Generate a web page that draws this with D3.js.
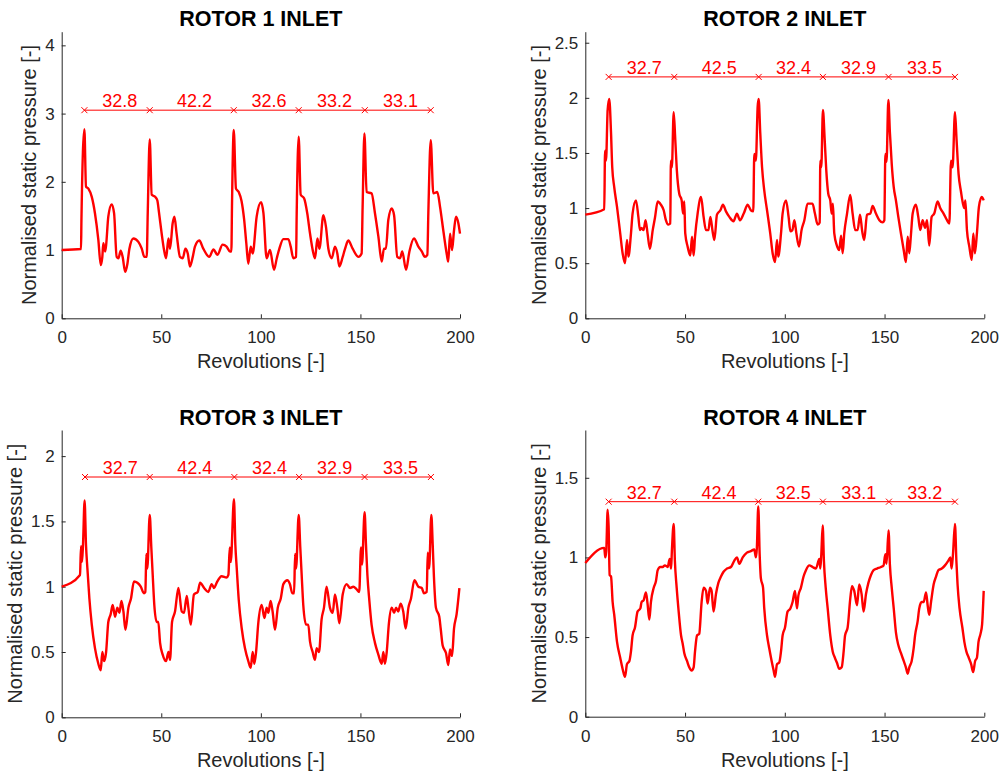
<!DOCTYPE html>
<html>
<head>
<meta charset="utf-8">
<script src="https://cdn.jsdelivr.net/npm/d3@7"></script>
<style>
  body { margin: 0; background: #fff; }
  text { font-family: "Liberation Sans", Arial, Helvetica, sans-serif; }
</style>
</head>
<body>
<div id="main"></div>
<script>
// revolutions vs normalised static pressure
const rotor1 = [[0,1.00],[9.7,1.015],[9.9,1.42],[11.4,2.77],[12.2,1.93],[13.4,1.90],[15.1,1.78],[16.7,1.54],[18.4,1.15],[19.6,0.78],[20.4,0.90],[20.9,1.10],[21.8,0.98],[22.3,1.07],[23.4,1.49],[25.1,1.67],[26.3,1.54],[27.6,0.90],[28.5,0.88],[29.6,0.99],[30.6,0.90],[31.9,0.68],[33.0,0.80],[34.0,1.02],[36.0,1.17],[38.5,1.12],[40.2,1.02],[41.5,0.90],[42.7,0.90],[43.2,1.54],[44.2,2.62],[45.2,1.81],[46.9,1.78],[48.0,1.73],[48.9,1.54],[50.2,1.24],[51.4,1.00],[52.4,0.88],[53.6,1.17],[54.4,1.02],[55.7,1.39],[56.6,1.49],[57.7,1.24],[59.4,0.90],[60.8,0.88],[62.1,1.02],[63.3,0.95],[64.4,0.76],[65.8,0.90],[66.9,1.05],[69.1,1.14],[71.1,1.02],[74.1,0.90],[76.2,1.01],[78.2,0.93],[80.8,1.08],[82.8,1.05],[84.5,0.98],[85.2,0.98],[85.5,1.63],[86.4,2.76],[87.5,1.90],[88.9,1.85],[90.3,1.72],[91.6,1.45],[92.7,1.10],[93.7,0.80],[94.9,1.05],[95.9,0.95],[97.9,1.49],[100.1,1.70],[101.3,1.54],[102.9,0.88],[104.6,1.00],[106.6,0.71],[108,0.88],[109.3,1.02],[111.3,1.16],[113.8,1.16],[115,1.05],[116.3,0.88],[117.7,0.90],[118,1.54],[119,2.66],[120,1.81],[121.7,1.76],[123.3,1.54],[124.7,1.24],[126.4,0.95],[127.2,0.88],[128.4,1.17],[129.4,1.02],[131.4,1.51],[132.7,1.34],[133.9,1.02],[135.6,0.88],[137.2,1.05],[138.4,0.95],[139.4,0.76],[141.1,0.90],[142.3,1.02],[143.9,1.14],[146.1,1.02],[149,0.90],[150.6,0.95],[151.1,1.63],[152,2.71],[153.1,1.85],[155.6,1.83],[157.3,1.54],[159,1.20],[160.7,0.83],[161.8,1.02],[162.8,1.02],[164,1.44],[165.7,1.61],[166.9,1.51],[168.5,0.90],[169.9,0.88],[171,0.98],[172.9,0.71],[174.6,0.98],[176.9,1.17],[179.1,1.05],[180.8,0.98],[182.4,0.90],[183.6,0.93],[184.1,1.54],[185.3,2.61],[186.6,1.83],[188.6,1.85],[190,1.63],[191.6,1.29],[193.3,0.95],[194.1,0.83],[195,1.24],[196,1.00],[197,1.29],[198,1.49],[199.2,1.39],[200,1.24]];

const rotor2 = [[0,0.94],[9.5,0.99],[9.9,1.52],[10.4,1.43],[11.2,1.89],[12.0,1.99],[12.9,1.68],[13.5,1.37],[14.5,1.19],[15.9,1.01],[17.5,0.77],[18.7,0.59],[19.9,0.50],[20.9,0.71],[21.6,0.56],[22.9,0.77],[23.7,0.95],[25.4,1.07],[26.6,0.92],[27.4,0.80],[28.2,0.82],[29.2,0.80],[30.2,0.89],[31.2,0.77],[32.4,0.63],[33.8,0.80],[34.9,0.91],[36.3,1.06],[37.9,1.03],[39.3,0.98],[40.4,0.89],[41.6,0.85],[42.6,0.86],[42.9,1.43],[43.4,1.37],[44.3,1.87],[45.1,1.62],[45.9,1.34],[47.1,1.13],[48.3,1.07],[49,0.95],[49.6,1.06],[50.1,0.77],[51.3,0.65],[52.6,0.57],[53.5,0.74],[54.3,0.57],[55,0.74],[56.3,0.95],[58,1.10],[59.3,0.92],[60.5,0.80],[61.7,0.80],[62.7,0.92],[63.8,0.79],[64.7,0.71],[66,0.94],[67.7,0.98],[69,1.03],[70.5,0.97],[72.2,0.92],[74.3,0.88],[76,0.95],[77.5,0.89],[79.4,0.95],[81.4,1.03],[83,0.98],[84.2,0.97],[84.7,1.49],[85.5,1.43],[86.4,1.92],[86.9,1.99],[87.7,1.68],[88.6,1.37],[89.7,1.16],[91.1,0.98],[92.7,0.77],[93.9,0.59],[95.1,0.51],[96.1,0.71],[96.7,0.56],[98.1,0.77],[98.9,0.95],[100.6,1.07],[101.9,0.92],[102.8,0.79],[103.8,0.80],[104.8,0.89],[105.8,0.77],[107.1,0.65],[108.4,0.80],[109.8,0.89],[111.4,1.04],[113.9,1.04],[115.1,0.95],[116.5,0.85],[117.5,0.87],[117.8,1.43],[118.3,1.37],[119.1,1.89],[120,1.62],[120.8,1.34],[121.8,1.13],[122.8,1.07],[123.5,0.95],[124.1,1.04],[124.8,0.77],[126.1,0.66],[127.3,0.62],[128.2,0.75],[129,0.59],[129.8,0.77],[131.2,0.95],[132.8,1.12],[134,0.95],[135.3,0.80],[136.5,0.80],[137.7,0.94],[138.8,0.79],[139.8,0.71],[141.2,0.94],[142.9,0.95],[144,1.02],[145.7,0.95],[147.4,0.89],[149,0.87],[149.9,0.89],[150.4,1.49],[151,1.42],[151.9,1.98],[152.7,1.68],[153.6,1.40],[154.6,1.19],[155.7,1.07],[156.9,0.92],[158.2,0.77],[159.6,0.62],[160.7,0.51],[161.6,0.74],[162.4,0.59],[163.2,0.75],[164.1,0.95],[165.7,1.03],[166.9,0.92],[167.9,0.80],[169.1,0.89],[170.3,0.82],[171.3,0.89],[172.4,0.66],[173.6,0.92],[174.9,0.95],[176.6,1.06],[177.9,1.00],[179.6,0.95],[181.3,0.89],[182.5,0.86],[183.3,1.43],[184.1,1.37],[185.3,1.87],[186.1,1.62],[187.1,1.31],[188.3,1.15],[189.3,1.04],[190,1.00],[190.5,1.07],[191.3,0.80],[192.5,0.65],[193.7,0.53],[194.5,0.77],[195.3,0.59],[196.3,0.77],[197.3,1.01],[198.7,1.10],[199.7,1.07]];

const rotor3 = [[0,1.00],[9.2,1.09],[9.7,1.31],[10.2,1.19],[10.7,1.32],[11.5,1.66],[12.2,1.32],[12.9,1.14],[13.9,0.91],[15.1,0.71],[16.7,0.53],[18.4,0.41],[19.6,0.36],[20.4,0.50],[21.3,0.43],[22.3,0.50],[23.4,0.73],[24.6,0.79],[25.6,0.86],[26.8,0.77],[27.9,0.84],[29,0.80],[30,0.89],[31,0.81],[32,0.67],[33.5,0.84],[34.8,0.91],[36.3,1.04],[38,1.03],[39.7,1.00],[41.3,0.95],[42,0.96],[42.5,1.25],[43,1.14],[44.2,1.55],[45,1.30],[45.7,1.09],[46.5,0.86],[47.7,0.73],[48.5,0.73],[49.4,0.57],[50.7,0.48],[52.4,0.43],[53.6,0.50],[54.4,0.44],[55.4,0.73],[56.9,0.81],[58.6,0.99],[60.3,0.81],[61.4,0.80],[62.8,0.93],[63.6,0.84],[64.8,0.71],[66.4,0.94],[68.3,0.96],[69.5,1.03],[71.5,0.99],[73.6,0.96],[75.3,1.02],[76.5,0.99],[77.8,1.03],[80.3,1.08],[82.8,1.07],[83.7,1.09],[84.4,1.30],[84.9,1.19],[86.5,1.67],[87.2,1.32],[87.9,1.14],[88.9,0.90],[90.4,0.68],[92,0.53],[93.7,0.43],[94.9,0.38],[95.9,0.50],[96.7,0.41],[97.6,0.50],[98.7,0.72],[100.4,0.86],[101.8,0.76],[102.9,0.84],[103.8,0.80],[104.9,0.89],[105.9,0.81],[107.1,0.67],[108.5,0.84],[110,0.91],[111.3,1.02],[113.3,1.05],[114.6,1.02],[115.8,0.95],[116.7,0.95],[117.2,1.25],[117.7,1.14],[119,1.55],[119.8,1.30],[120.5,1.09],[121.3,0.86],[122.7,0.71],[123.8,0.71],[124.7,0.58],[126,0.50],[127.2,0.44],[128,0.53],[129.2,0.50],[130.5,0.75],[131.7,0.84],[133,1.00],[134.7,0.84],[136.1,0.80],[137.2,0.94],[138.4,0.84],[139.4,0.72],[141.1,0.94],[143.1,1.02],[144.8,0.99],[146.4,1.00],[148.1,0.98],[149.4,0.96],[150.3,1.30],[150.8,1.17],[152.1,1.57],[152.8,1.32],[153.5,1.09],[154.5,0.89],[155.6,0.71],[157.3,0.57],[159,0.48],[160.7,0.41],[161.5,0.50],[162.3,0.41],[163.2,0.50],[164.3,0.72],[165.7,0.84],[166.9,0.80],[167.9,0.84],[169,0.81],[170.2,0.87],[171.5,0.81],[172.7,0.68],[174.1,0.84],[175.4,0.91],[177.1,1.05],[179.1,1.00],[180.8,0.99],[181.9,0.95],[183.3,0.96],[183.8,1.26],[184.5,1.14],[185.6,1.55],[186.3,1.32],[186.9,1.08],[187.9,0.84],[189.6,0.77],[190.3,0.68],[191.3,0.55],[193,0.49],[194.1,0.40],[195,0.52],[196,0.47],[197,0.68],[198.3,0.79],[199.7,0.99]];

const rotor4 = [[0,0.965],[9.5,1.06],[10,1.00],[10.5,1.04],[11.2,1.30],[11.7,1.19],[12.2,0.89],[12.9,0.88],[13.7,0.72],[14.5,0.64],[15.9,0.47],[17.5,0.37],[18.7,0.30],[19.9,0.25],[20.9,0.33],[22.1,0.35],[22.9,0.41],[23.7,0.51],[24.9,0.56],[26.2,0.66],[27.6,0.68],[28.2,0.72],[29.2,0.73],[30.4,0.78],[31.2,0.71],[32.1,0.61],[32.9,0.72],[34.3,0.81],[35.4,0.85],[36.3,0.92],[37.6,0.94],[38.8,0.94],[39.9,0.95],[41.3,0.94],[42.3,0.99],[43,0.93],[43.4,1.04],[44.3,1.21],[44.9,0.98],[45.8,0.81],[46.8,0.66],[48,0.51],[48.8,0.46],[49.6,0.40],[51,0.35],[52.1,0.31],[53.3,0.29],[54.3,0.31],[55,0.41],[56,0.51],[57.1,0.52],[58.3,0.72],[59.3,0.81],[60.5,0.79],[61.3,0.71],[62.5,0.81],[63.3,0.79],[64.3,0.66],[65.5,0.77],[66.7,0.84],[68,0.88],[69.3,0.91],[71,0.93],[73,0.94],[74.7,0.98],[76,1.00],[77.2,0.96],[78.9,1.00],[81,1.03],[83,1.04],[84.7,1.05],[85.5,1.00],[86,1.06],[86.7,1.32],[87.4,1.02],[88,0.87],[89.1,0.81],[89.7,0.68],[91.1,0.51],[92.2,0.43],[93.4,0.35],[94.4,0.29],[95.1,0.25],[96.1,0.33],[97.2,0.34],[98.1,0.41],[98.9,0.51],[100.1,0.56],[101.4,0.66],[102.8,0.68],[103.9,0.72],[105.1,0.79],[106.1,0.68],[106.8,0.76],[108.1,0.81],[109.4,0.88],[110.6,0.92],[112.3,0.95],[113.9,0.94],[115.6,0.93],[117.3,0.99],[117.8,0.93],[118.3,1.02],[119,1.20],[119.6,0.98],[120.5,0.81],[121.5,0.68],[122.8,0.51],[124,0.41],[125.1,0.37],[126.1,0.34],[127.3,0.30],[128.5,0.31],[129.5,0.41],[130.2,0.51],[131.5,0.56],[132.8,0.74],[133.7,0.82],[134.8,0.79],[136.2,0.70],[137.3,0.83],[138.5,0.77],[139.5,0.66],[140.7,0.77],[141.9,0.84],[143.2,0.89],[144.5,0.92],[146.2,0.93],[148.2,0.94],[149.5,0.95],[150.4,1.02],[151,0.96],[152,1.17],[152.7,0.95],[153.6,0.81],[154.6,0.68],[155.7,0.53],[156.9,0.45],[158.2,0.40],[159.6,0.35],[160.7,0.31],[161.6,0.27],[162.4,0.31],[163.6,0.35],[164.6,0.43],[165.3,0.51],[166.6,0.60],[167.4,0.68],[168.6,0.72],[169.6,0.72],[170.8,0.78],[171.6,0.70],[172.4,0.64],[173.3,0.72],[174.6,0.83],[175.8,0.88],[177,0.92],[178.7,0.93],[180.3,0.95],[182,0.98],[183,1.00],[183.6,0.93],[184.3,1.02],[185.3,1.21],[186,0.98],[186.6,0.83],[187.6,0.68],[189,0.56],[190,0.47],[191,0.41],[192.2,0.37],[193.4,0.33],[194.4,0.28],[195.4,0.35],[196.3,0.37],[197.1,0.47],[198.1,0.52],[198.9,0.58],[199.7,0.79]];

// period markers (revolutions) and period lengths written between them
const marks1 = [11.4, 44.2, 86.4, 119.0, 152.2, 185.3];
const marks2 = [11.7, 44.6, 86.9, 119.1, 152.0, 185.3];
const marks3 = [11.7, 44.2, 86.7, 119.2, 152.1, 185.4];
const marks4 = [11.7, 44.6, 86.7, 119.1, 152.2, 185.3];
const periods1 = ['32.8', '42.2', '32.6', '33.2', '33.1'];
const periods2 = ['32.7', '42.5', '32.4', '32.9', '33.5'];
const periods3 = ['32.7', '42.4', '32.4', '32.9', '33.5'];
const periods4 = ['32.7', '42.4', '32.5', '33.1', '33.2'];
const markLevels = [3.05, 2.19, 1.84, 1.35];

const titles = ['ROTOR 1 INLET', 'ROTOR 2 INLET', 'ROTOR 3 INLET', 'ROTOR 4 INLET'];
const yMaxes = [4.2, 2.6, 2.2, 1.8];
const yTicks = [[0, 1, 2, 3, 4], [0, 0.5, 1, 1.5, 2, 2.5], [0, 0.5, 1, 1.5, 2], [0, 0.5, 1, 1.5]];
const xTicks = [0, 50, 100, 150, 200];

const width = 1001, height = 776;
const axisColor = '#262626';
const lineRed = '#ff0000';

// plot boxes: [left, top, right, bottom]
const boxes = [
    [61.7, 31.7, 460, 318.3],
    [585.3, 31.7, 984.3, 318.3],
    [61.7, 430, 460, 717.3],
    [585.3, 430, 984.3, 716.7]
];

const series = [rotor1, rotor2, rotor3, rotor4];
const marks = [marks1, marks2, marks3, marks4];
const periods = [periods1, periods2, periods3, periods4];

let svg = d3.select('#main')
    .append('svg')
        .attr('width', width)
        .attr('height', height);

boxes.forEach((b, i) => {
    const [l, t, r, btm] = b;
    const x = d3.scaleLinear().domain([0, 200]).range([l, r]);
    const y = d3.scaleLinear().domain([0, yMaxes[i]]).range([btm, t]);
    const g = svg.append('g');

    // axes, MATLAB style: ticks inward, no box
    const xAxis = g.append('g')
        .attr('transform', `translate(0,${btm})`)
        .call(d3.axisBottom(x).tickValues(xTicks).tickSizeInner(-4).tickSizeOuter(0).tickPadding(9));
    const yAxis = g.append('g')
        .attr('transform', `translate(${l},0)`)
        .call(d3.axisLeft(y).tickValues(yTicks[i]).tickFormat(d3.format('')).tickSizeInner(-4).tickSizeOuter(0).tickPadding(7));
    [xAxis, yAxis].forEach(a => {
        a.select('.domain').attr('stroke', axisColor).attr('stroke-width', 1);
        a.selectAll('.tick line').attr('stroke', axisColor);
        a.selectAll('.tick text')
            .attr('fill', axisColor)
            .style('font-size', '17px');
    });
    xAxis.selectAll('.tick text').attr('dy', '0.95em');

    // y label offset depends on the widest tick label
    let maxW = 0;
    yAxis.selectAll('.tick text').each(function() {
        maxW = Math.max(maxW, this.getComputedTextLength());
    });

    g.append('text')
        .attr('x', (l + r) / 2)
        .attr('y', t - 5.5)
        .attr('text-anchor', 'middle')
        .style('font-size', '21.5px')
        .style('font-weight', 'bold')
        .attr('fill', '#000')
        .text(titles[i]);

    g.append('text')
        .attr('x', (l + r) / 2)
        .attr('y', btm + 50)
        .attr('text-anchor', 'middle')
        .style('font-size', '20px')
        .attr('fill', axisColor)
        .text('Revolutions [-]');

    g.append('text')
        .attr('transform', `translate(${l - maxW - 16},${(t + btm) / 2}) rotate(-90)`)
        .attr('text-anchor', 'middle')
        .style('font-size', '20px')
        .attr('fill', axisColor)
        .text('Normalised static pressure [-]');

    // pressure trace
    const line = d3.line()
        .x(d => x(d[0]))
        .y(d => y(d[1]))
        .curve(d3.curveMonotoneX);
    g.append('path')
        .datum(series[i])
        .attr('d', line)
        .attr('fill', 'none')
        .attr('stroke', lineRed)
        .attr('stroke-width', 2.4)
        .attr('stroke-linejoin', 'round');

    // period annotation line with x markers
    const my = y(markLevels[i]);
    const mk = marks[i];
    g.append('line')
        .attr('x1', x(mk[0])).attr('x2', x(mk[mk.length - 1]))
        .attr('y1', my).attr('y2', my)
        .attr('stroke', lineRed).attr('stroke-width', 1);
    g.selectAll('.mark')
        .data(mk)
        .enter()
        .append('path')
            .attr('class', 'mark')
            .attr('d', d => {
                const cx = x(d), s = 3;
                return `M${cx - s},${my - s}L${cx + s},${my + s}M${cx - s},${my + s}L${cx + s},${my - s}`;
            })
            .attr('stroke', lineRed)
            .attr('stroke-width', 1);
    g.selectAll('.period')
        .data(periods[i])
        .enter()
        .append('text')
            .attr('class', 'period')
            .attr('x', (d, j) => x((mk[j] + mk[j + 1]) / 2 + 1.4))
            .attr('y', my - 3)
            .attr('text-anchor', 'middle')
            .style('font-size', '18px')
            .attr('fill', lineRed)
            .text(d => d);
});
</script>
</body>
</html>
